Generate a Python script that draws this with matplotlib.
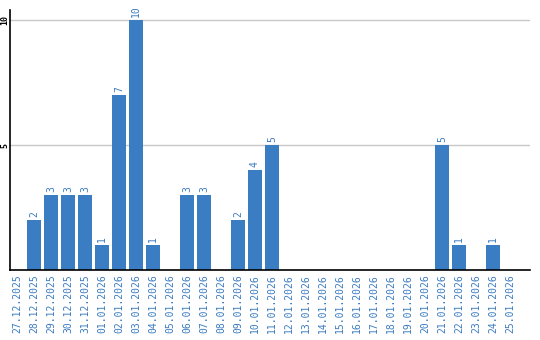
import matplotlib
matplotlib.use('Agg')
import matplotlib.pyplot as plt

dates = ['27.12.2025', '28.12.2025', '29.12.2025', '30.12.2025', '31.12.2025',
         '01.01.2026', '02.01.2026', '03.01.2026', '04.01.2026', '05.01.2026',
         '06.01.2026', '07.01.2026', '08.01.2026', '09.01.2026', '10.01.2026',
         '11.01.2026', '12.01.2026', '13.01.2026', '14.01.2026', '15.01.2026',
         '16.01.2026', '17.01.2026', '18.01.2026', '19.01.2026', '20.01.2026',
         '21.01.2026', '22.01.2026', '23.01.2026', '24.01.2026', '25.01.2026']
counts = [0, 2, 3, 3, 3, 1, 7, 10, 1, 0,
          3, 3, 0, 2, 4, 5, 0, 0, 0, 0,
          0, 0, 0, 0, 0, 5, 1, 0, 1, 0]
y_ticks = [5, 10]

bar_color = '#3b7dc3'
text_color = '#3a7bc0'

fig = plt.figure(figsize=(5.4, 3.4), dpi=100)
ax = fig.add_axes([10 / 540, 70 / 340, 520 / 540, 260 / 340])

x = list(range(len(dates)))
ax.bar(x, counts, width=0.82, color=bar_color, zorder=2)

for xi, v in zip(x, counts):
    if v > 0:
        ax.text(xi, v + 0.12, str(v), rotation=90, ha='center', va='bottom',
                color=text_color, fontsize=7, family='DejaVu Sans Mono')

ax.set_xlim(-0.41, 30.18)
ax.set_ylim(0, 10.4)
ax.set_yticks(y_ticks)
ax.set_yticklabels([])
# y labels placed by hand so they stay inside the narrow left margin
for v in y_ticks:
    ax.text(-5 / 520, v, str(v), rotation=90, ha='center', va='center',
            fontsize=6, family='DejaVu Sans Mono', fontweight='bold',
            transform=ax.get_yaxis_transform(), clip_on=False)
ax.yaxis.grid(True, color='#c8c8c8', linewidth=1, zorder=0)
ax.tick_params(axis='y', length=0)

ax.set_xticks(x)
ax.set_xticklabels(dates, rotation=90, color=text_color, fontsize=7,
                   family='DejaVu Sans Mono')
ax.tick_params(axis='x', length=0, pad=3)

ax.spines['top'].set_visible(False)
ax.spines['right'].set_visible(False)
ax.spines['left'].set_color('black')
ax.spines['bottom'].set_color('black')
ax.spines['left'].set_linewidth(1.2)
ax.spines['bottom'].set_linewidth(1.2)

fig.savefig('out.png', dpi=100)
